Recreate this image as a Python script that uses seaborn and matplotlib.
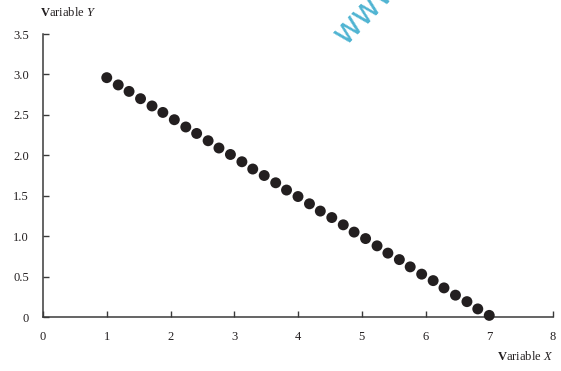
import matplotlib
matplotlib.use("Agg")
import matplotlib.pyplot as plt
import seaborn as sns
import pandas as pd

x_values = [1.00, 1.18, 1.35, 1.53, 1.71, 1.88, 2.06, 2.24, 2.41, 2.59, 2.76, 2.94,
            3.12, 3.29, 3.47, 3.65, 3.82, 4.00, 4.18, 4.35, 4.53, 4.71, 4.88, 5.06,
            5.24, 5.41, 5.59, 5.76, 5.94, 6.12, 6.29, 6.47, 6.65, 6.82, 7.00]
y_values = [2.96, 2.87, 2.79, 2.70, 2.61, 2.53, 2.44, 2.35, 2.27, 2.18, 2.09, 2.01,
            1.92, 1.83, 1.75, 1.66, 1.57, 1.49, 1.40, 1.31, 1.23, 1.14, 1.05, 0.97,
            0.88, 0.79, 0.71, 0.62, 0.53, 0.45, 0.36, 0.27, 0.19, 0.10, 0.02]
x_ticks = [0, 1, 2, 3, 4, 5, 6, 7, 8]
x_tick_labels = ["0", "1", "2", "3", "4", "5", "6", "7", "8"]
y_ticks = [0, 0.5, 1.0, 1.5, 2.0, 2.5, 3.0, 3.5]
y_tick_labels = ["0", "0.5", "1.0", "1.5", "2.0", "2.5", "3.0", "3.5"]

df = pd.DataFrame({"x": x_values, "y": y_values})

sns.set_style("ticks")
plt.rcParams["font.family"] = ["Liberation Serif", "DejaVu Serif"]
plt.rcParams["mathtext.fontset"] = "custom"
plt.rcParams["mathtext.rm"] = "Liberation Serif"
plt.rcParams["mathtext.it"] = "Liberation Serif:italic"
plt.rcParams["mathtext.bf"] = "Liberation Serif:bold"

fig = plt.figure(figsize=(5.61, 3.71), dpi=100)
ax = fig.add_axes([43 / 561, 1 - 317 / 371, 510 / 561, (317 - 34) / 371])

sns.scatterplot(data=df, x="x", y="y", ax=ax, s=62, color="#231f20",
                edgecolor="none", clip_on=False, zorder=3)

ax.set_xlim(0, 8)
ax.set_ylim(0, 3.5)
ax.set_xticks(x_ticks)
ax.set_xticklabels(x_tick_labels)
ax.set_yticks(y_ticks)
ax.set_yticklabels(y_tick_labels)
ax.set_xlabel("")
ax.set_ylabel("")

for side in ["top", "right"]:
    ax.spines[side].set_visible(False)
for side in ["left", "bottom"]:
    ax.spines[side].set_color("#3a3a3a")
    ax.spines[side].set_linewidth(1.1)

ax.tick_params(axis="both", direction="in", length=4, width=1.0,
               color="#3a3a3a", labelsize=9, labelcolor="#231f20")
ax.tick_params(axis="x", pad=10)
ax.tick_params(axis="y", pad=10)

fig.text(40 / 561, 1 - 13 / 371, r"$\mathbf{V}$ariable $\mathit{Y}$",
         fontsize=9, ha="left", va="center", color="#231f20")
fig.text(553 / 561, 1 - 357 / 371, r"$\mathbf{V}$ariable $\mathit{X}$",
         fontsize=9, ha="right", va="center", color="#231f20")

fig.text(346 / 561, 1 - 46 / 371, "www", fontsize=24, rotation=46,
         ha="left", va="baseline", color="#4fb4d2", family="DejaVu Sans",
         rotation_mode="anchor")

fig.savefig("out.png", dpi=100)
